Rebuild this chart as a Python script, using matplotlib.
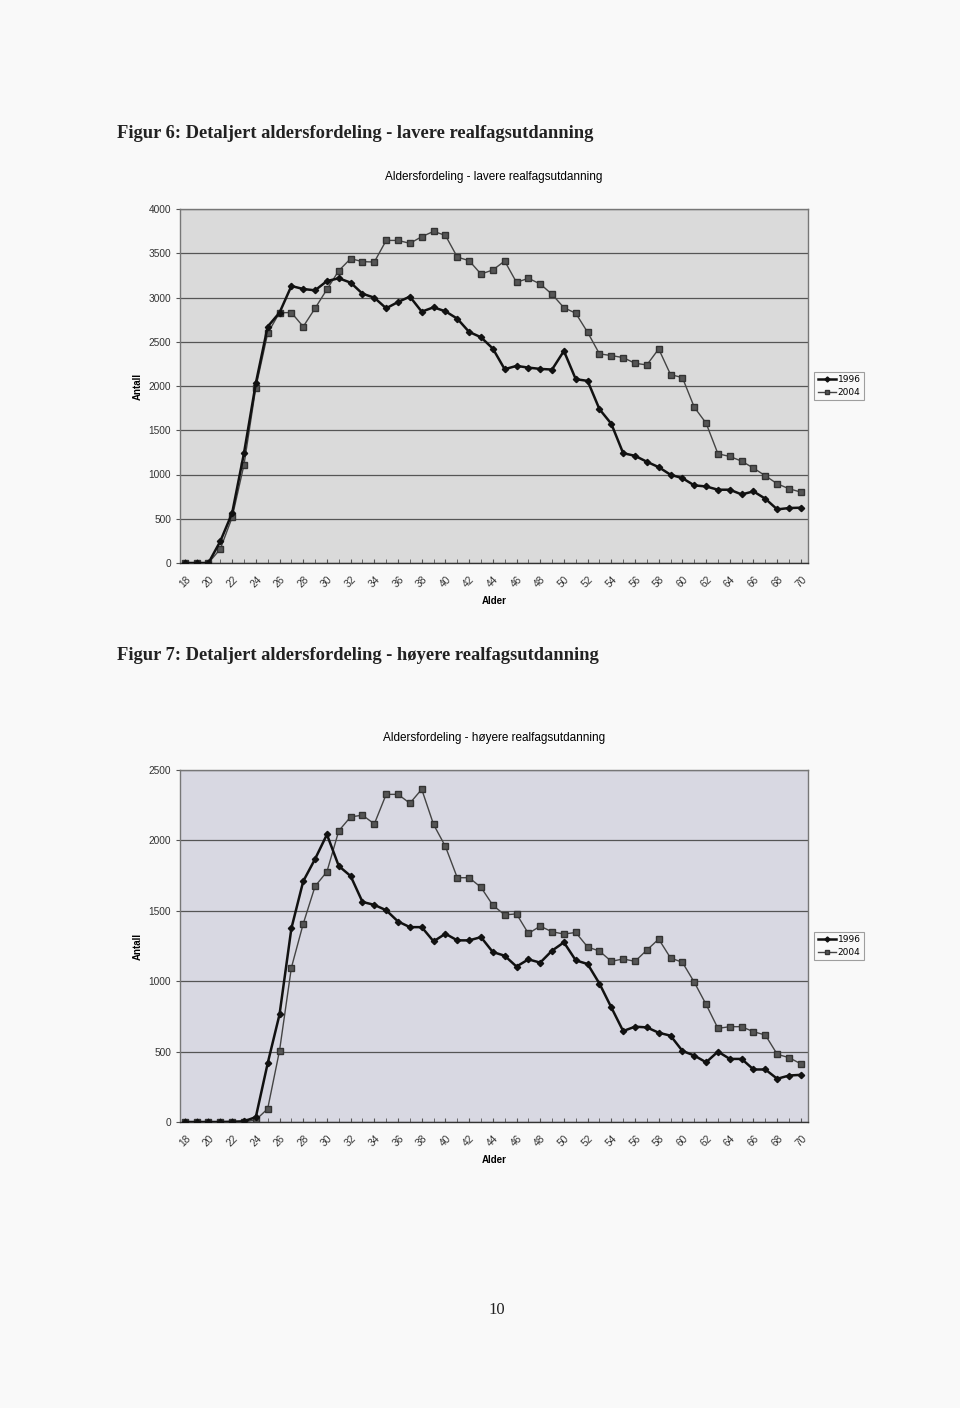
import numpy as np
import matplotlib.pyplot as plt

# Ages 18..70
alder = list(range(18, 71))

# Figur 6 - lavere realfagsutdanning
lav_1996 = [0, 0, 0, 245, 564, 1241, 2032, 2671, 2829, 3130, 3096, 3081, 3186, 3217,
            3168, 3043, 2998, 2878, 2949, 3010, 2840, 2889, 2844, 2761, 2611, 2551,
            2423, 2190, 2227, 2208, 2193, 2186, 2396, 2077, 2058, 1738, 1573, 1241,
            1211, 1144, 1083, 997, 959, 877, 865, 828, 828, 775, 809, 726, 606, 621, 625]
lav_2004 = [0, 0, 0, 158, 515, 1110, 1983, 2596, 2829, 2829, 2671, 2878, 3092, 3303,
            3439, 3405, 3401, 3645, 3645, 3612, 3687, 3747, 3702, 3457, 3416, 3265,
            3311, 3412, 3171, 3217, 3153, 3036, 2885, 2822, 2607, 2363, 2344, 2321,
            2257, 2238, 2419, 2129, 2095, 1761, 1580, 1234, 1204, 1151, 1072, 986, 895, 839, 801]

# Figur 7 - hoyere realfagsutdanning
hoy_1996 = [0, 0, 0, 0, 2, 5, 35, 417, 764, 1375, 1710, 1868, 2042, 1818, 1747, 1563,
            1542, 1504, 1424, 1384, 1384, 1283, 1337, 1290, 1290, 1313, 1207, 1181,
            1104, 1155, 1132, 1217, 1276, 1148, 1122, 983, 814, 646, 677, 672, 634,
            613, 505, 472, 424, 500, 448, 448, 373, 373, 307, 330, 335]
hoy_2004 = [0, 0, 0, 0, 0, 0, 15, 94, 507, 1096, 1408, 1674, 1778, 2068, 2167, 2179,
            2117, 2327, 2327, 2264, 2363, 2113, 1957, 1735, 1735, 1667, 1540, 1471,
            1478, 1339, 1391, 1351, 1335, 1346, 1243, 1214, 1141, 1158, 1141, 1221,
            1299, 1165, 1134, 993, 835, 665, 677, 677, 641, 618, 481, 457, 413]

W, H = 960, 1408
fig = plt.figure(figsize=(W / 100, H / 100), dpi=100, facecolor='#f9f9f9')


def px_axes(x0, y0, x1, y1):
    return fig.add_axes([x0 / W, 1 - y1 / H, (x1 - x0) / W, (y1 - y0) / H])


def draw_chart(ax, s96, s04, ymax, bg, title):
    ax.set_facecolor(bg)
    ax.plot(alder, s96, color='#111111', lw=1.8, marker='D', ms=3.2, label='1996', zorder=3)
    ax.plot(alder, s04, color='#444444', lw=1.0, marker='s', ms=4.0,
            mfc='#555555', mec='#333333', label='2004', zorder=2)
    ax.set_xlim(17.6, 70.6)
    ax.set_ylim(0, ymax)
    ax.set_yticks(np.arange(0, ymax + 1, 500))
    ax.yaxis.grid(True, color='#555555', lw=0.9)
    ax.set_axisbelow(True)
    ax.set_xticks(alder, minor=True)
    ax.set_xticks(alder[::2])
    ax.set_xticklabels([str(a) for a in alder[::2]], rotation=45, ha='center',
                       fontsize=7.3, family='Liberation Sans', color='#333333')
    ax.tick_params(axis='x', which='both', direction='in', length=3, colors='#555555',
                   labelcolor='#333333', pad=8)
    ax.tick_params(axis='y', length=3, labelsize=7.3, colors='#555555', labelcolor='#333333')
    for lbl in ax.get_yticklabels():
        lbl.set_family('Liberation Sans')
    for s in ax.spines.values():
        s.set_color('#777777')
        s.set_linewidth(1.0)
    ax.spines['bottom'].set_color('#333333')
    ax.set_xlabel('Alder', fontsize=7, fontweight='bold', family='Liberation Sans', labelpad=5)
    ax.set_ylabel('Antall', fontsize=7, fontweight='bold', family='Liberation Sans', labelpad=4)
    ax.set_title(title, fontsize=8.5, family='Liberation Sans', pad=21)
    leg = ax.legend(loc='center left', bbox_to_anchor=(1.01, 0.5), fontsize=6.5,
                    frameon=True, fancybox=False, handlelength=2.0, borderpad=0.4,
                    labelspacing=0.4, handletextpad=0.2, borderaxespad=0, markerscale=0.8)
    leg.get_frame().set_edgecolor('#888888')
    leg.get_frame().set_linewidth(0.8)
    leg.get_frame().set_facecolor('#fafafa')


fig.text(117 / W, 1 - 133 / H, 'Figur 6: Detaljert aldersfordeling - lavere realfagsutdanning',
         fontsize=13.3, family='Liberation Serif', fontweight='bold', va='center', color='#222222')
ax1 = px_axes(180, 209, 808, 563)
draw_chart(ax1, lav_1996, lav_2004, 4000, '#dadada', 'Aldersfordeling - lavere realfagsutdanning')

fig.text(117 / W, 1 - 656 / H, 'Figur 7: Detaljert aldersfordeling - høyere realfagsutdanning',
         fontsize=13.3, family='Liberation Serif', fontweight='bold', va='center', color='#222222')
ax2 = px_axes(180, 770, 808, 1122)
draw_chart(ax2, hoy_1996, hoy_2004, 2500, '#d8d8e2', 'Aldersfordeling - høyere realfagsutdanning')

fig.text(497 / W, 1 - 1310 / H, '10', fontsize=12, family='Liberation Serif',
         ha='center', va='center', color='#222222')

fig.savefig('out.png', dpi=100, facecolor=fig.get_facecolor())
